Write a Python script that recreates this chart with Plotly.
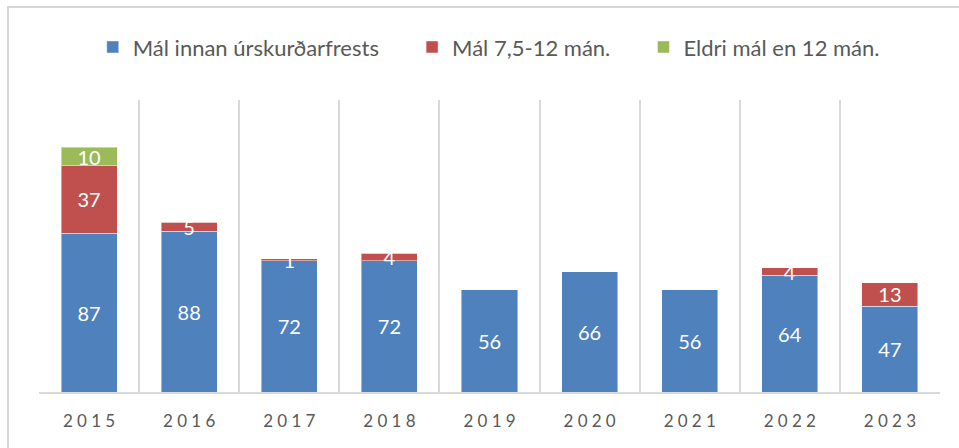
import plotly.graph_objects as go

years = ["2015", "2016", "2017", "2018", "2019", "2020", "2021", "2022", "2023"]
innan = [87, 88, 72, 72, 56, 66, 56, 64, 47]
man_7_12 = [37, 5, 1, 4, 0, 0, 0, 4, 13]
eldri = [10, 0, 0, 0, 0, 0, 0, 0, 0]

names = ["Mál innan úrskurðarfrests", "Mál 7,5-12 mán.", "Eldri mál en 12 mán."]
colors = ["#4F81BD", "#C0504D", "#9BBB59"]

# letter-spaced tick labels
tick_text = ["\u2005".join(list(y)) for y in years]

FONT = "Lato"
PAD = "\u00a0" * 5
BORDER = "#D6D6D6"

fig = go.Figure()
for i, (vals, name, col) in enumerate(zip([innan, man_7_12, eldri], names, colors)):
    fig.add_trace(go.Bar(
        x=years, y=vals, name=name + (PAD if i < 2 else ""),
        marker=dict(color=col, line=dict(color="rgba(255,255,255,0.45)", width=1)),
        text=[str(v) if v else "" for v in vals],
        textposition="inside", insidetextanchor="middle", textangle=0,
        constraintext="none", cliponaxis=False,
        textfont=dict(color="white", size=20, family=FONT),
    ))

# empty frame subplot whose axis lines form the chart-area border
fig.add_trace(go.Scatter(x=[], y=[], xaxis="x2", yaxis="y2",
                         showlegend=False, hoverinfo="skip"))

fig.update_layout(
    barmode="stack", bargap=0.44,
    width=959, height=448,
    margin=dict(l=9, r=0, t=8, b=0, pad=0, autoexpand=False),
    paper_bgcolor="white", plot_bgcolor="rgba(0,0,0,0)",
    font=dict(family=FONT, color="#595959"),
    showlegend=True,
    legend=dict(orientation="h", x=0.505, xanchor="center", xref="paper",
                y=0.911, yanchor="middle", yref="paper",
                font=dict(size=22, color="#595959", family=FONT),
                itemwidth=30, traceorder="normal", itemclick=False,
                bgcolor="rgba(0,0,0,0)"),
    xaxis=dict(type="category", tickson="boundaries", showgrid=True,
               domain=[30 / 950, 931 / 950], anchor="y", automargin=False,
               gridcolor="#D9D9D9", gridwidth=1.5, ticks="",
               tickvals=years, ticktext=tick_text, ticklabelstandoff=13,
               tickfont=dict(size=17, color="#595959", family=FONT),
               showline=True, linecolor="#D9D9D9", linewidth=1.5,
               range=[-0.5, 8.5], zeroline=False),
    yaxis=dict(range=[0, 160], visible=False, showgrid=False, automargin=False,
               domain=[56 / 440, 348 / 440], anchor="x"),
    xaxis2=dict(domain=[0, 1], anchor="y2", side="top", range=[0, 1],
                showline=True, linecolor=BORDER, linewidth=2, automargin=False,
                showgrid=False, zeroline=False, showticklabels=False, ticks=""),
    yaxis2=dict(domain=[0, 1], anchor="x2", side="left", range=[0, 1],
                showline=True, linecolor=BORDER, linewidth=2, automargin=False,
                showgrid=False, zeroline=False, showticklabels=False, ticks=""),
    uniformtext=dict(mode="show", minsize=8),
)

fig.write_html("out.html")
